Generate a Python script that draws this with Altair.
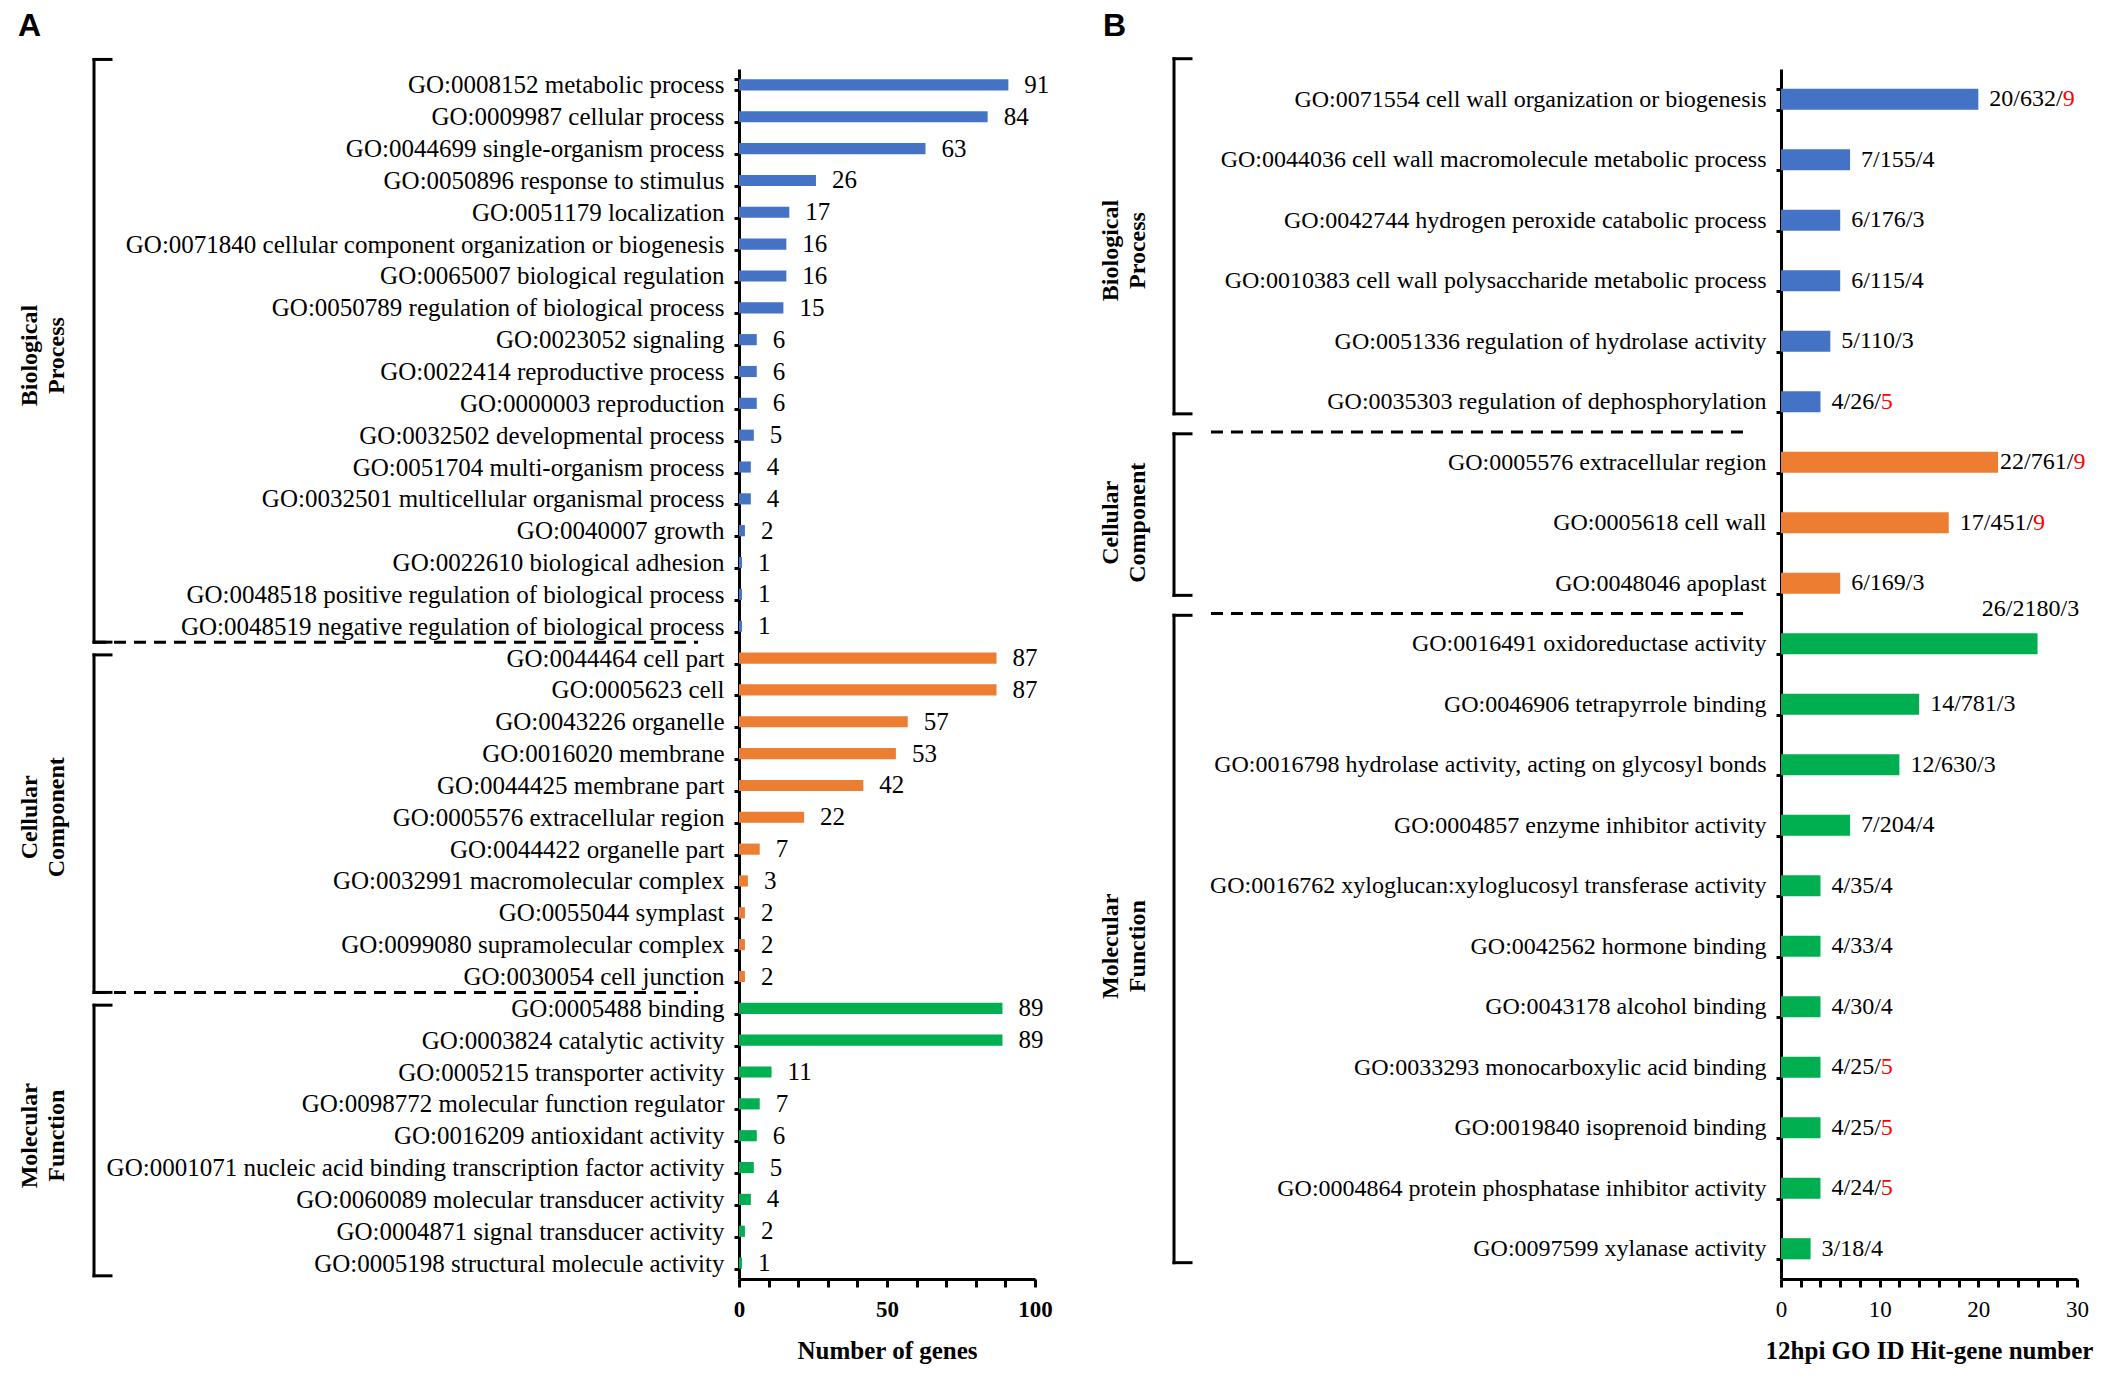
import altair as alt
import pandas as pd

BLUE = "#4472C4"
ORANGE = "#ED7D31"
GREEN = "#00B050"
RED = "#FF0000"
SERIF = "Liberation Serif"
SANS = "Liberation Sans"

groups = ["Biological Process", "Cellular Component", "Molecular Function"]
group_lines = ["Biological\nProcess", "Cellular\nComponent", "Molecular\nFunction"]
group_colors = [BLUE, ORANGE, GREEN]

# ---------------- Panel A data ----------------
a_bp_terms = [
    "GO:0008152 metabolic process", "GO:0009987 cellular process",
    "GO:0044699 single-organism process", "GO:0050896 response to stimulus",
    "GO:0051179 localization", "GO:0071840 cellular component organization or biogenesis",
    "GO:0065007 biological regulation", "GO:0050789 regulation of biological process",
    "GO:0023052 signaling", "GO:0022414 reproductive process",
    "GO:0000003 reproduction", "GO:0032502 developmental process",
    "GO:0051704 multi-organism process", "GO:0032501 multicellular organismal process",
    "GO:0040007 growth", "GO:0022610 biological adhesion",
    "GO:0048518 positive regulation of biological process",
    "GO:0048519 negative regulation of biological process",
]
a_bp_counts = [91, 84, 63, 26, 17, 16, 16, 15, 6, 6, 6, 5, 4, 4, 2, 1, 1, 1]

a_cc_terms = [
    "GO:0044464 cell part", "GO:0005623 cell", "GO:0043226 organelle",
    "GO:0016020 membrane", "GO:0044425 membrane part", "GO:0005576 extracellular region",
    "GO:0044422 organelle part", "GO:0032991 macromolecular complex",
    "GO:0055044 symplast", "GO:0099080 supramolecular complex", "GO:0030054 cell junction",
]
a_cc_counts = [87, 87, 57, 53, 42, 22, 7, 3, 2, 2, 2]

a_mf_terms = [
    "GO:0005488 binding", "GO:0003824 catalytic activity", "GO:0005215 transporter activity",
    "GO:0098772 molecular function regulator", "GO:0016209 antioxidant activity",
    "GO:0001071 nucleic acid binding transcription factor activity",
    "GO:0060089 molecular transducer activity", "GO:0004871 signal transducer activity",
    "GO:0005198 structural molecule activity",
]
a_mf_counts = [89, 89, 11, 7, 6, 5, 4, 2, 1]

# ---------------- Panel B data ----------------
b_bp_terms = [
    "GO:0071554 cell wall organization or biogenesis",
    "GO:0044036 cell wall macromolecule metabolic process",
    "GO:0042744 hydrogen peroxide catabolic process",
    "GO:0010383 cell wall polysaccharide metabolic process",
    "GO:0051336 regulation of hydrolase activity",
    "GO:0035303 regulation of dephosphorylation",
]
b_bp_hits = [20, 7, 6, 6, 5, 4]
b_bp_bg = [632, 155, 176, 115, 110, 26]
b_bp_lvl = [9, 4, 3, 4, 3, 5]

b_cc_terms = ["GO:0005576 extracellular region", "GO:0005618 cell wall", "GO:0048046 apoplast"]
b_cc_hits = [22, 17, 6]
b_cc_bg = [761, 451, 169]
b_cc_lvl = [9, 9, 3]

b_mf_terms = [
    "GO:0016491 oxidoreductase activity", "GO:0046906 tetrapyrrole binding",
    "GO:0016798 hydrolase activity, acting on glycosyl bonds",
    "GO:0004857 enzyme inhibitor activity",
    "GO:0016762 xyloglucan:xyloglucosyl transferase activity",
    "GO:0042562 hormone binding", "GO:0043178 alcohol binding",
    "GO:0033293 monocarboxylic acid binding", "GO:0019840 isoprenoid binding",
    "GO:0004864 protein phosphatase inhibitor activity", "GO:0097599 xylanase activity",
]
b_mf_hits = [26, 14, 12, 7, 4, 4, 4, 4, 4, 4, 3]
b_mf_bg = [2180, 781, 630, 204, 35, 33, 30, 25, 25, 24, 18]
b_mf_lvl = [3, 3, 3, 4, 4, 4, 4, 5, 5, 5, 4]

# ---------------- tables ----------------
a_terms_all = a_bp_terms + a_cc_terms + a_mf_terms
dfa = pd.DataFrame({
    "term": a_terms_all,
    "value": a_bp_counts + a_cc_counts + a_mf_counts,
    "group": [groups[0]] * len(a_bp_terms) + [groups[1]] * len(a_cc_terms) + [groups[2]] * len(a_mf_terms),
})

b_terms_all = b_bp_terms + b_cc_terms + b_mf_terms
b_hits = b_bp_hits + b_cc_hits + b_mf_hits
b_bg = b_bp_bg + b_cc_bg + b_mf_bg
b_lvl = b_bp_lvl + b_cc_lvl + b_mf_lvl
dfb = pd.DataFrame({
    "term": b_terms_all,
    "value": b_hits,
    "group": [groups[0]] * len(b_bp_terms) + [groups[1]] * len(b_cc_terms) + [groups[2]] * len(b_mf_terms),
    "red": [l >= 5 for l in b_lvl],
})
labels = [f"{h}/{g}/{l}" for h, g, l in zip(b_hits, b_bg, b_lvl)]
dfb["black"] = [lab.rsplit("/", 1)[0] + "/" if r else lab for lab, r in zip(labels, dfb["red"])]
dfb["suffix"] = [lab.rsplit("/", 1)[1] if r else "" for lab, r in zip(labels, dfb["red"])]
# advance width (in em) of the black part, Times metrics: digits 0.5em, slash 0.278em
dfb["pre_em"] = [sum(0.5 if c.isdigit() else 0.278 for c in s) for s in dfb["black"]]


def group_table(sizes, first_top, top, bot, last_bot):
    rows = []
    start = 0
    for i, n in enumerate(sizes):
        rows.append({"group": groups[i], "lines": group_lines[i],
                     "start": start, "end": start + n, "mid": start + n / 2,
                     "btop": start + (first_top if i == 0 else top),
                     "bbot": start + n + (last_bot if i == len(sizes) - 1 else bot),
                     "last": i == len(sizes) - 1})
        start += n
    return pd.DataFrame(rows)


color_enc = alt.Color("group:N", scale=alt.Scale(domain=groups, range=group_colors), legend=None)

W = 296
H = 1210


def panel(df, terms, sizes, xmax, tick_step, label_step, x_title, x_label_weight, label_fs,
          letter, letter_x, bracket_x, label_x, dash_x1, dash_x2, bracket_offsets, text_layers):
    n = len(terms)
    y_axis = alt.Axis(title=None, labelFont=SERIF, labelFontSize=label_fs, labelColor="black",
                      labelPadding=10, labelLimit=0, tickSize=5, tickWidth=3, tickColor="black",
                      tickBand="extent", domainWidth=3, domainColor="black")
    yscale = alt.Scale(paddingInner=0.65, paddingOuter=0.325)
    y = alt.Y("term:N", sort=terms, scale=yscale, axis=y_axis)
    xscale = alt.Scale(domain=[0, xmax], nice=False)
    x_axis = alt.Axis(values=list(range(0, xmax + 1, tick_step)),
                      labelExpr=f"datum.value % {label_step} === 0 ? datum.label : ''",
                      labelFont=SERIF, labelFontSize=23, labelFontWeight=x_label_weight,
                      labelColor="black", labelFlush=False, labelOverlap=False,
                      labelPadding=11, tickSize=8, tickWidth=3, tickColor="black",
                      domainWidth=3, domainColor="black", grid=False,
                      title=x_title, titleFont=SERIF, titleFontSize=25,
                      titleFontWeight="bold", titleColor="black", titlePadding=17)

    def xf(field):
        return alt.X(f"{field}:Q", scale=xscale, axis=x_axis)

    base = alt.Chart(df)
    bars = base.mark_bar().encode(y=y, x=xf("value"), color=color_enc)
    layers = [bars] + [f(base, y, xf) for f in text_layers]
    inner = alt.layer(*layers)

    gdf = group_table(sizes, *bracket_offsets)
    idx = alt.Scale(domain=[0, n], reverse=True, nice=False, zero=False)
    g = alt.Chart(gdf)
    rule_kw = dict(color="black", strokeWidth=3, strokeCap="square")
    vbr = g.mark_rule(**rule_kw).encode(
        x=alt.value(bracket_x), y=alt.Y("btop:Q", scale=idx, axis=None), y2="bbot:Q")
    top_hook = g.mark_rule(**rule_kw).encode(
        x=alt.value(bracket_x), x2=alt.value(bracket_x + 17),
        y=alt.Y("btop:Q", scale=idx, axis=None))
    bot_hook = g.mark_rule(**rule_kw).encode(
        x=alt.value(bracket_x), x2=alt.value(bracket_x + 17),
        y=alt.Y("bbot:Q", scale=idx, axis=None))
    dash = g.transform_filter("!datum.last").mark_rule(
        color="black", strokeWidth=3, strokeDash=[12, 8]).encode(
        x=alt.value(dash_x1), x2=alt.value(dash_x2), y=alt.Y("end:Q", scale=idx, axis=None))
    glab = g.mark_text(angle=270, font=SERIF, fontSize=24, fontWeight="bold", color="black",
                       lineBreak="\n", lineHeight=27, align="center", baseline="middle").encode(
        x=alt.value(label_x), y=alt.Y("mid:Q", scale=idx, axis=None), text="lines:N")
    let = alt.Chart(pd.DataFrame({"panel": [letter]})).mark_text(
        font=SANS, fontSize=32, fontWeight="bold", color="black", align="left",
        baseline="alphabetic").encode(x=alt.value(letter_x), y=alt.value(-33), text="panel:N")

    return alt.layer(inner, vbr, top_hook, bot_hook, dash, glab, let).resolve_scale(
        y="independent").properties(width=W, height=H)


def a_text(base, y, xf):
    return base.mark_text(align="left", baseline="middle", dx=16, font=SERIF, fontSize=25,
                          color="black").encode(y=y, x=xf("value"), text="value:Q")


B_FS = 24


def b_texts(rule, dx, dy, align):
    def make_black(base, y, xf):
        return base.transform_filter(rule).mark_text(
            align=align, baseline="middle", dx=dx, dy=dy, font=SERIF, fontSize=B_FS,
            color="black").encode(y=y, x=xf("value"), text="black:N")

    def make_red(base, y, xf):
        return base.transform_filter(rule).transform_filter("datum.red").transform_calculate(
            sx=f"datum.value + datum.pre_em * {B_FS} * 30 / {W}").mark_text(
            align="left", baseline="middle", dx=dx, dy=dy, font=SERIF, fontSize=B_FS,
            color=RED).encode(y=y, x=xf("sx"), text="suffix:N")
    return [make_black, make_red]


b_layers = (b_texts("datum.value <= 21", 11, 0, "left")
            + b_texts("datum.value > 21 && datum.value < 25", 2, 0, "left")
            + b_texts("datum.value >= 25", -7, -35, "center"))

chart_a = panel(dfa, a_terms_all, [len(a_bp_terms), len(a_cc_terms), len(a_mf_terms)],
                100, 10, 50, "Number of genes", "bold", 25,
                "A", -721, -645, -709, -645, -41, (-0.3, 0.4, 0.0, -0.1), [a_text])
chart_b = panel(dfb, b_terms_all, [len(b_bp_terms), len(b_cc_terms), len(b_mf_terms)],
                30, 2, 10, "12hpi GO ID Hit-gene number", "normal", 24,
                "B", -678, -607, -670, -570, -30, (-0.17, 0.03, -0.3, -0.27), b_layers)

chart = alt.hconcat(chart_a, chart_b, spacing=46).properties(
    padding={"left": 10, "top": 2, "right": 5, "bottom": 5}
).configure_view(stroke=None).configure_axis(grid=False)

chart.save("out.html", embed_options={"renderer": "svg", "actions": False})
